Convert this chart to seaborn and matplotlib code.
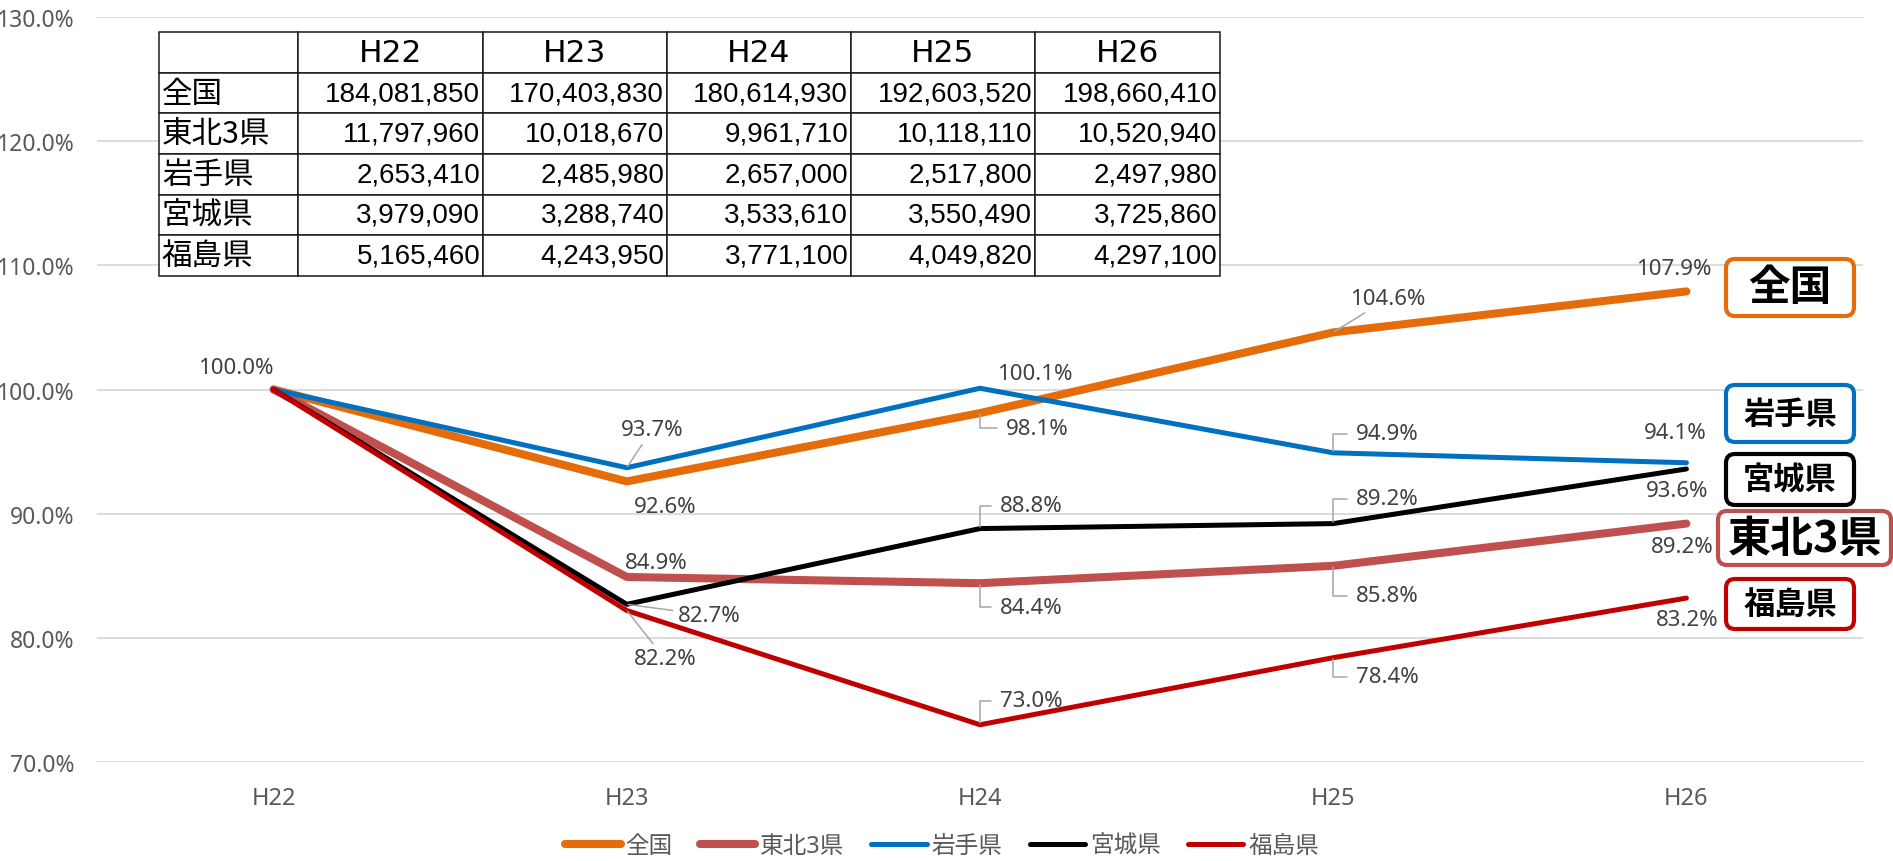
import numpy as np
import pandas as pd
import matplotlib
matplotlib.use("Agg")
import matplotlib.pyplot as plt
import seaborn as sns
from matplotlib.lines import Line2D
from matplotlib.patches import FancyBboxPatch
from matplotlib.ticker import FuncFormatter

# ---- data -------------------------------------------------------------
years = ["H22", "H23", "H24", "H25", "H26"]
regions = ["全国", "東北3県", "岩手県", "宮城県", "福島県"]

# amounts shown in the summary table
amount_zenkoku = [184081850, 170403830, 180614930, 192603520, 198660410]
amount_tohoku3 = [11797960, 10018670, 9961710, 10118110, 10520940]
amount_iwate = [2653410, 2485980, 2657000, 2517800, 2497980]
amount_miyagi = [3979090, 3288740, 3533610, 3550490, 3725860]
amount_fukushima = [5165460, 4243950, 3771100, 4049820, 4297100]

# index relative to H22 (%)
idx_zenkoku = [100.0, 92.6, 98.1, 104.6, 107.9]
idx_tohoku3 = [100.0, 84.9, 84.4, 85.8, 89.2]
idx_iwate = [100.0, 93.7, 100.1, 94.9, 94.1]
idx_miyagi = [100.0, 82.7, 88.8, 89.2, 93.6]
idx_fukushima = [100.0, 82.2, 73.0, 78.4, 83.2]

amounts = [amount_zenkoku, amount_tohoku3, amount_iwate, amount_miyagi, amount_fukushima]
indices = [idx_zenkoku, idx_tohoku3, idx_iwate, idx_miyagi, idx_fukushima]

# ---- style ------------------------------------------------------------
colors = {"全国": "#E46C0A", "東北3県": "#C0504D", "岩手県": "#0070C0",
          "宮城県": "#000000", "福島県": "#C00000"}
widths = {"全国": 5.8, "東北3県": 5.8, "岩手県": 3.6, "宮城県": 3.6, "福島県": 3.6}

sns.set_theme(style="white")
plt.rcParams["font.family"] = ["Noto Sans", "Noto Sans CJK JP", "DejaVu Sans"]

W, H = 1893, 862
fig = plt.figure(figsize=(W / 100, H / 100), dpi=100)
fig.patch.set_facecolor("white")
ax = fig.add_axes([97 / W, 1 - 763 / H, 1766 / W, 745 / H])

df = pd.DataFrame({
    "年度": years * len(regions),
    "地域": np.repeat(regions, len(years)),
    "指数": np.concatenate(indices),
})

for r in regions:
    sub = df[df["地域"] == r]
    sns.lineplot(data=sub, x="年度", y="指数", color=colors[r], lw=widths[r],
                 ax=ax, legend=False, solid_capstyle="round",
                 solid_joinstyle="round", zorder=3)

ax.set_xlim(-0.5, 4.5)
ax.set_ylim(70, 130)
ax.set_yticks(np.arange(70, 131, 10))
ax.yaxis.set_major_formatter(FuncFormatter(lambda v, p: f"{v:.1f}%"))
ax.set_xlabel("")
ax.set_ylabel("")
for s in ax.spines.values():
    s.set_visible(False)
ax.yaxis.grid(True, color="#D9D9D9", lw=1.3)
ax.xaxis.grid(False)
ax.set_axisbelow(True)
ax.tick_params(axis="y", length=0, pad=16, labelsize=16.5, labelcolor="#595959")
ax.tick_params(axis="x", length=0, pad=17, labelsize=17, labelcolor="#595959")

# ---- data labels: (dx, dy) pixel offsets (dy downwards) and leader type ----
label_layout = {
    ("全国", 0): (-38, -22, None),
    ("全国", 1): (38, 25, None),
    ("岩手県", 1): (25, -38, "line"),
    ("東北3県", 1): (29, -14, None),
    ("宮城県", 1): (82, 11, "line"),
    ("福島県", 1): (38, 48, "line"),
    ("全国", 2): (57, 15, "elbow"),
    ("岩手県", 2): (55, -15, None),
    ("東北3県", 2): (51, 24, "elbow"),
    ("宮城県", 2): (51, -23, "elbow"),
    ("福島県", 2): (51, -24, "elbow"),
    ("全国", 3): (55, -34, "line"),
    ("岩手県", 3): (54, -19, "elbow"),
    ("東北3県", 3): (54, 30, "elbow"),
    ("宮城県", 3): (54, -25, "elbow"),
    ("福島県", 3): (54, 19, "elbow"),
    ("全国", 4): (-13, -23, None),
    ("岩手県", 4): (-11, -30, None),
    ("宮城県", 4): (-9, 22, None),
    ("東北3県", 4): (-4, 23, None),
    ("福島県", 4): (1, 21, None),
}
leader_color = "#A6A6A6"
for (r, i), (dx, dy, kind) in label_layout.items():
    v = indices[regions.index(r)][i]
    arrow = None
    if kind == "line":
        arrow = dict(arrowstyle="-", color=leader_color, lw=1.1, shrinkA=1, shrinkB=1)
    elif kind == "elbow":
        arrow = dict(arrowstyle="-", color=leader_color, lw=1.1, relpos=(0, 0.5),
                     connectionstyle="angle,angleA=0,angleB=90,rad=0",
                     shrinkA=4, shrinkB=1)
    ax.annotate(f"{v:.1f}%", xy=(i, v), xytext=(dx, -dy), textcoords="offset pixels",
                ha="center", va="center", fontsize=16, color="#404040",
                arrowprops=arrow, zorder=4)

# ---- legend -----------------------------------------------------------
handles = [Line2D([], [], color=colors[r], lw=widths[r], solid_capstyle="round")
           for r in regions]
fig.legend(handles, regions, loc="center", bbox_to_anchor=(942 / W, 1 - 847 / H),
           ncol=5, frameon=False, fontsize=17, handlelength=2.35,
           handletextpad=0.2, columnspacing=1.15, labelcolor="#595959")

# ---- overlay in pixel coordinates: table and series tags ---------------
ov = fig.add_axes([0, 0, 1, 1])
ov.set_xlim(0, W)
ov.set_ylim(H, 0)
ov.axis("off")

cell_rows = [[""] + years]
for r, row in zip(regions, amounts):
    cell_rows.append([r] + [f"{v:,}" for v in row])
tx0, ty0, tx1, ty1 = 159, 33, 1220, 277
col_w = [139, 185, 184, 184, 184, 185]
table = ov.table(cellText=cell_rows, cellLoc="right",
                 colWidths=[c / sum(col_w) for c in col_w],
                 bbox=[tx0 / W, 1 - ty1 / H, (tx1 - tx0) / W, (ty1 - ty0) / H])
table.auto_set_font_size(False)
for (ri, ci), cell in table.get_celld().items():
    cell.set_edgecolor("#1a1a1a")
    cell.set_linewidth(1.1)
    cell.set_facecolor("white")
    txt = cell.get_text()
    if ri == 0:
        cell._loc = "center"
        txt.set_ha("center")
        txt.set_fontfamily(["DejaVu Sans"])
        txt.set_fontsize(22.5)
    elif ci == 0:
        cell._loc = "left"
        cell.PAD = 0.02
        txt.set_ha("left")
        txt.set_fontfamily(["Noto Sans CJK JP"])
        txt.set_fontsize(22)
    else:
        cell._loc = "right"
        cell.PAD = 0.015
        txt.set_ha("right")
        txt.set_fontfamily(["Liberation Sans"])
        txt.set_fontsize(20)
    txt.set_color("black")

tag_layout = {
    "全国": (1726, 260, 1854, 317, 30),
    "岩手県": (1726, 386, 1854, 443, 22.5),
    "宮城県": (1726, 455, 1854, 506, 22.5),
    "東北3県": (1718, 512, 1891, 566, 31),
    "福島県": (1726, 580, 1854, 630, 22.5),
}
for r, (x0, y0, x1, y1, fs) in tag_layout.items():
    box = FancyBboxPatch((x0, y0), x1 - x0, y1 - y0,
                         boxstyle="round,pad=0,rounding_size=9",
                         fc="white", ec=colors[r], lw=3)
    ov.add_patch(box)
    ov.text((x0 + x1) / 2, (y0 + y1) / 2, r, ha="center", va="center",
            fontsize=fs, fontweight="bold", color="black",
            fontfamily=["Noto Sans CJK JP"])

fig.savefig("out.png", dpi=100, facecolor="white")
